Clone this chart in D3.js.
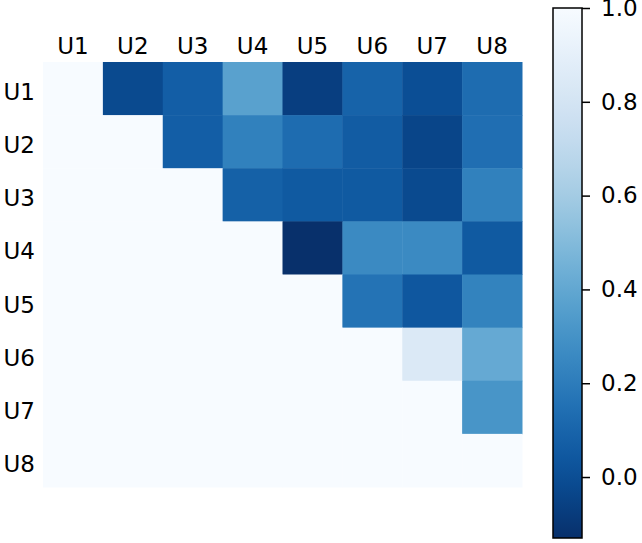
<!DOCTYPE html>
<html>
<head>
<meta charset="utf-8">
<script src="https://cdn.jsdelivr.net/npm/d3@7"></script>
<style>
  body { margin: 0; background: #fff; }
  svg text { font-family: "DejaVu Sans", Verdana, sans-serif; fill: #000; }
</style>
</head>
<body>
<div id="chart"></div>
<script>
var width = 642,
    height = 543;

// labels for both axes
var users = ["U1", "U2", "U3", "U4", "U5", "U6", "U7", "U8"];

// upper triangle values, row by row (row Ui, columns U(i+1)..U8)
var rowU1 = [-0.02, 0.07, 0.37, -0.07, 0.09, 0.00, 0.13];
var rowU2 = [0.07, 0.22, 0.13, 0.06, -0.04, 0.14];
var rowU3 = [0.08, 0.05, 0.05, -0.02, 0.22];
var rowU4 = [-0.13, 0.26, 0.26, 0.05];
var rowU5 = [0.16, 0.04, 0.23];
var rowU6 = [0.84, 0.41];
var rowU7 = [0.31];
var upperRows = [rowU1, rowU2, rowU3, rowU4, rowU5, rowU6, rowU7, []];

// diagonal and lower part are drawn as 1
var fillValue = 1.0;

var colorTicks = [0.0, 0.2, 0.4, 0.6, 0.8, 1.0];
var colorMin = -0.13, colorMax = 1.0;

// build the cell table
var cells = [];
users.forEach(function(r, i) {
    users.forEach(function(c, j) {
        var v = j > i ? upperRows[i][j - i - 1] : fillValue;
        cells.push({row: r, col: c, value: v});
    });
});

var svg = d3.select("#chart").append("svg")
            .attr("width", width)
            .attr("height", height);

var x = d3.scaleBand().domain(users).range([43, 522]);
var y = d3.scaleBand().domain(users).range([62, 487]);

// Blues reversed: high values pale, low values navy
var color = d3.scaleSequential(function(t) { return d3.interpolateBlues(1 - t); })
              .domain([colorMin, colorMax]);

svg.append("g")
   .selectAll("rect")
   .data(cells)
   .enter().append("rect")
   .attr("x", d => x(d.col))
   .attr("y", d => y(d.row))
   .attr("width", x.bandwidth() + 0.5)
   .attr("height", y.bandwidth() + 0.5)
   .attr("fill", d => color(d.value));

// top labels
var xAxis = d3.axisTop(x).tickSize(0).tickPadding(8);
var gx = svg.append("g")
            .attr("transform", "translate(0,62)")
            .call(xAxis);
gx.select(".domain").remove();
gx.selectAll("text").style("font-size", "23px");

// left labels
var yAxis = d3.axisLeft(y).tickSize(0).tickPadding(8);
var gy = svg.append("g")
            .attr("transform", "translate(43,0)")
            .call(yAxis);
gy.select(".domain").remove();
gy.selectAll("text").style("font-size", "23px").attr("dy", "0.5em");

// colorbar
var cbX = 553, cbW = 29;
var cb = d3.scaleLinear().domain([colorMin, colorMax]).range([538, 8]);

var grad = svg.append("defs").append("linearGradient")
              .attr("id", "cbgrad")
              .attr("x1", "0").attr("y1", "1")
              .attr("x2", "0").attr("y2", "0");
d3.range(0, 1.0001, 0.05).forEach(function(t) {
    grad.append("stop")
        .attr("offset", t)
        .attr("stop-color", color(colorMin + t * (colorMax - colorMin)));
});

svg.append("rect")
   .attr("x", cbX)
   .attr("y", cb(colorMax))
   .attr("width", cbW)
   .attr("height", cb(colorMin) - cb(colorMax))
   .attr("fill", "url(#cbgrad)")
   .attr("stroke", "#000")
   .attr("stroke-width", 1.5);

var cAxis = d3.axisRight(cb)
              .tickValues(colorTicks)
              .tickFormat(d3.format(".1f"))
              .tickSize(8)
              .tickPadding(11);
var gc = svg.append("g")
            .attr("transform", "translate(" + (cbX + cbW) + ",0)")
            .call(cAxis);
gc.select(".domain").remove();
gc.selectAll("line").attr("stroke", "#000").attr("stroke-width", 1.5);
gc.selectAll("text").style("font-size", "23px");
</script>
</body>
</html>
